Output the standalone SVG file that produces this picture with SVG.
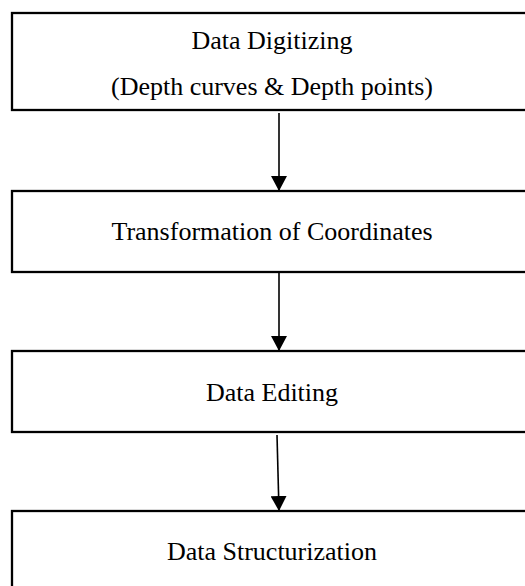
<svg xmlns="http://www.w3.org/2000/svg" width="525" height="586" viewBox="0 0 525 586">
  <style>
    .box { fill: #ffffff; stroke: #000000; stroke-width: 2.3; }
    .label { font-family: "Liberation Serif", "Times New Roman", serif; font-size: 26px; fill: #000000; text-anchor: middle; }
    .edge { stroke: #000000; stroke-width: 1.6; fill: none; marker-end: url(#head); }
  </style>
  <defs>
    <marker id="head" markerUnits="userSpaceOnUse" markerWidth="16" markerHeight="16" refX="15" refY="8" orient="auto">
      <path d="M0,0 L15,8 L0,16 Z" fill="#000000"/>
    </marker>
  </defs>
  <rect width="525" height="586" fill="#ffffff"/>

  <g id="digitizing">
    <rect class="box" x="12" y="13" width="520" height="97"/>
    <text class="label" x="272" y="49">Data Digitizing</text>
    <text class="label" x="272" y="95">(Depth curves &amp; Depth points)</text>
  </g>

  <g id="transformation">
    <rect class="box" x="12" y="191" width="520" height="81"/>
    <text class="label" x="272" y="240">Transformation of Coordinates</text>
  </g>

  <g id="editing">
    <rect class="box" x="12" y="351" width="520" height="81"/>
    <text class="label" x="272" y="401">Data Editing</text>
  </g>

  <g id="structurization">
    <rect class="box" x="12" y="511" width="520" height="90"/>
    <text class="label" x="272" y="560">Data Structurization</text>
  </g>

  <g id="connectors">
    <line class="edge" x1="279" y1="113" x2="279" y2="191"/>
    <line class="edge" x1="279" y1="273" x2="279" y2="351"/>
    <line class="edge" x1="277" y1="435" x2="279" y2="511"/>
  </g>
</svg>
